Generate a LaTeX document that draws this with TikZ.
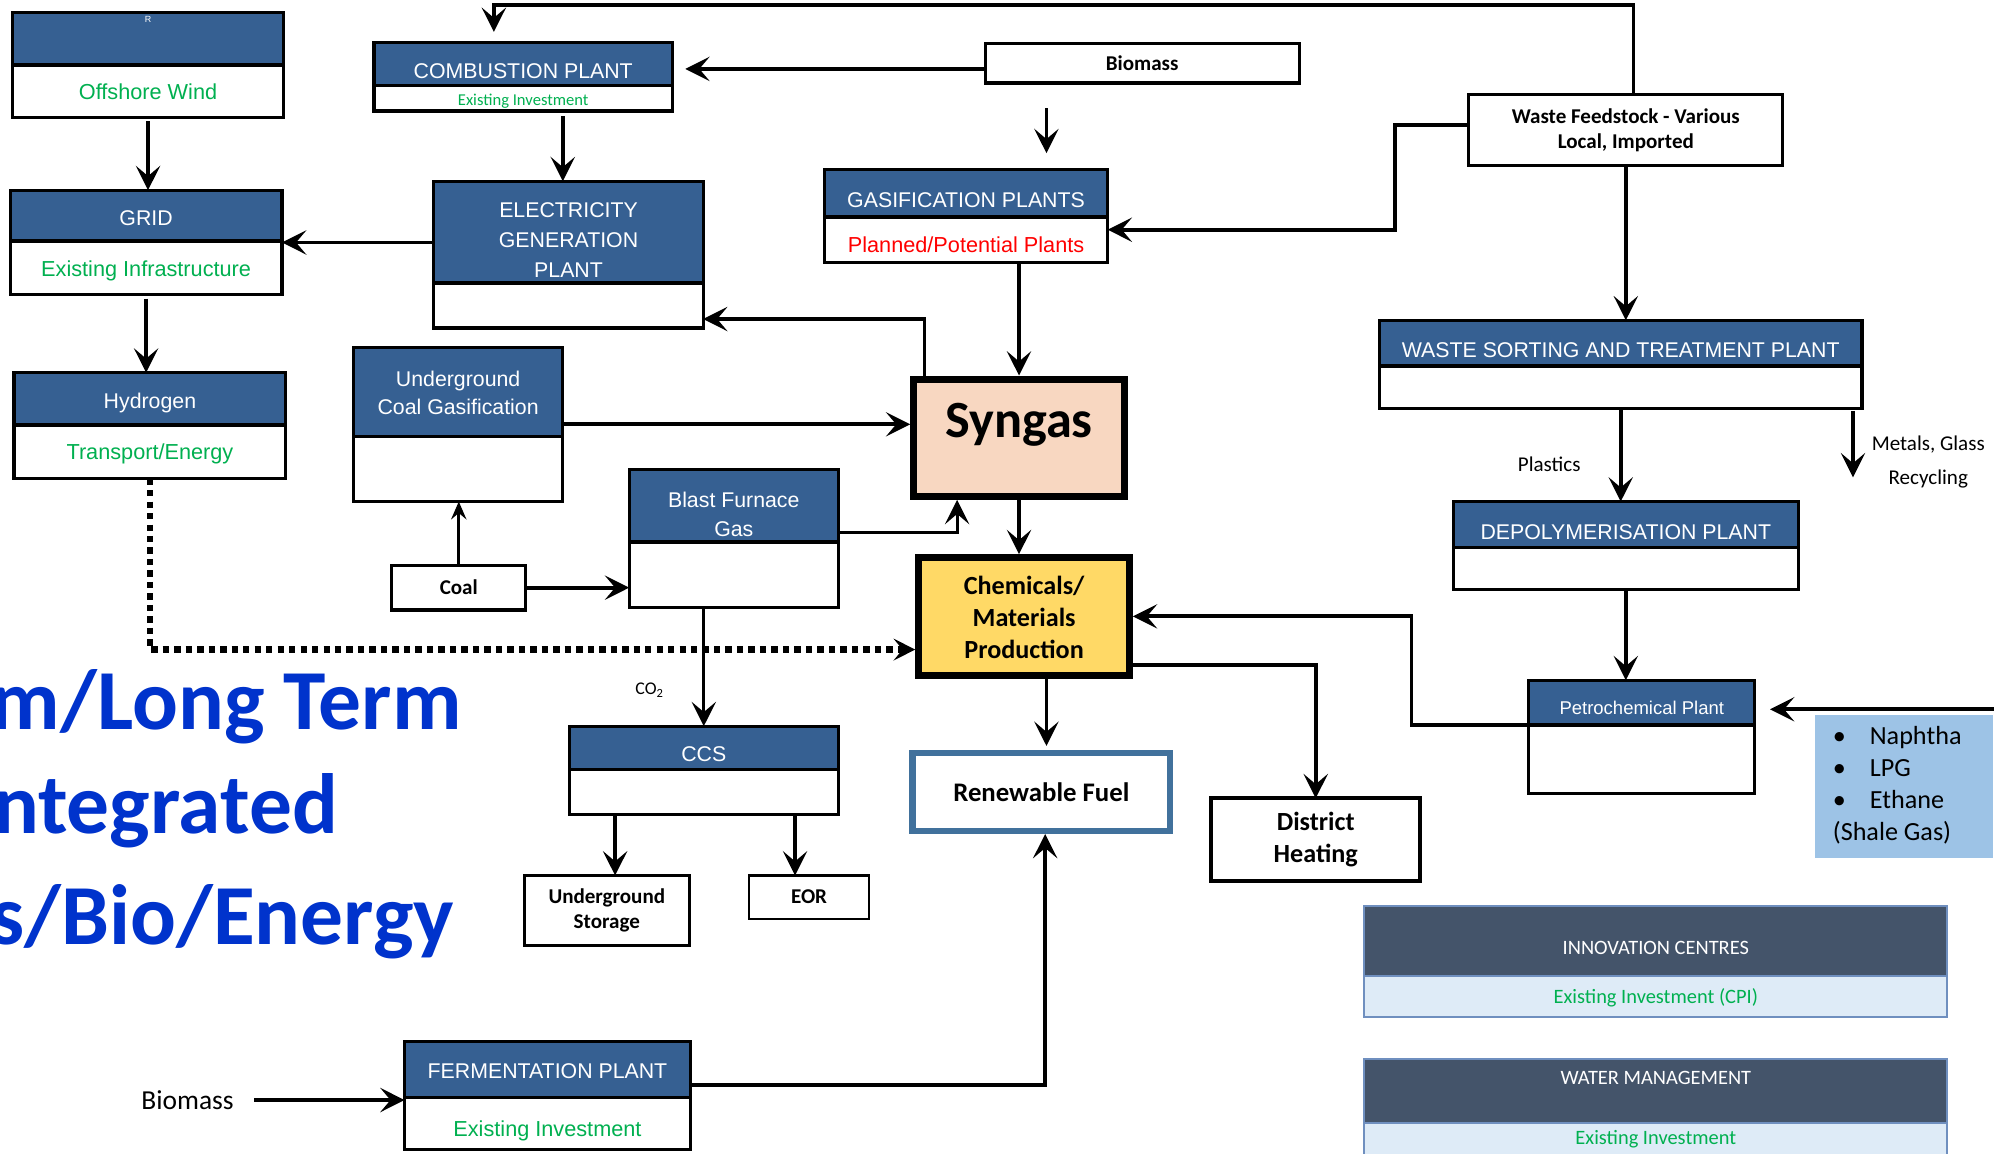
\documentclass[tikz,border=0pt]{standalone}
\usepackage{fontspec}
\setmainfont{Liberation Sans}
\newfontfamily\calfont{Carlito}
\usetikzlibrary{arrows.meta}
\definecolor{hdrblue}{HTML}{366092}
\definecolor{okgreen}{HTML}{00B050}
\definecolor{peach}{HTML}{F8D7C1}
\definecolor{gold}{HTML}{FFD966}
\definecolor{fuelblue}{HTML}{41719C}
\definecolor{feedblue}{HTML}{9DC3E6}
\definecolor{slate}{HTML}{44546A}
\definecolor{pale}{HTML}{DEEBF7}
\definecolor{edgeblue}{HTML}{6F8FBF}
\definecolor{titleblue}{HTML}{0033CC}
\begin{document}
\begin{tikzpicture}[x=1pt,y=-1pt,
  wh/.style 2 args={minimum width=#1pt, minimum height=#2pt},
  box/.style={draw, line width=2.5pt, fill=white, inner sep=0pt, outer sep=0pt},
  plant/.style={box, path picture={
      \fill[hdrblue] (path picture bounding box.north west) rectangle ([yshift=-#1pt]path picture bounding box.north east);
      \draw[line width=3pt] ([yshift=-#1pt]path picture bounding box.north west) -- ([yshift=-#1pt]path picture bounding box.north east);}},
  panel/.style={draw=edgeblue, line width=1.5pt, fill=pale, inner sep=0pt, outer sep=0pt, path picture={
      \fill[slate] (path picture bounding box.north west) rectangle ([yshift=-#1pt]path picture bounding box.north east);
      \draw[edgeblue, line width=1.5pt] ([yshift=-#1pt]path picture bounding box.north west) -- ([yshift=-#1pt]path picture bounding box.north east);}},
  ttl/.style={text=white, font=\fontsize{16.7}{23.5}\selectfont, align=center, inner sep=0pt},
  sub/.style={text=okgreen, font=\fontsize{17}{21}\selectfont, inner sep=0pt},
  lbl/.style={font=\calfont\bfseries\fontsize{16.5}{20}\selectfont, align=center, inner sep=0pt},
  note/.style={font=\calfont\fontsize{16.5}{27}\selectfont, align=center, inner sep=0pt},
  bigtxt/.style={font=\calfont\bfseries\fontsize{67}{80}\selectfont, text=titleblue, inner sep=0pt, anchor=base east},
  arr/.style={line width=3pt, -{Stealth[length=19pt,width=19pt,inset=8pt]}},
  dots/.style={line width=5pt, dash pattern=on 5pt off 4pt, -{Stealth[length=17pt,width=17pt,inset=7pt]}}]
\useasboundingbox (0,0) rectangle (1568,904);
\clip (0,0) rectangle (1568,904);
\fill[white] (0,0) rectangle (1568,904);

% left column
\node[plant=41, wh={212}{82}] (wind) at (116,51) {};
\node[ttl, font=\fontsize{7}{8}\selectfont] (wind-r) at (116,15) {R};
\node[sub] (wind-s) at (116,72) {Offshore Wind};
\node[plant=40, wh={213}{82}] (grid) at (114.5,190) {};
\node[ttl] (grid-t) at (114.5,171) {GRID};
\node[sub] (grid-s) at (114.5,212) {Existing Infrastructure};
\node[plant=41, wh={213}{83}] (hydro) at (117.5,333.5) {};
\node[ttl] (hydro-t) at (117.5,316) {Hydrogen};
\node[sub] (hydro-s) at (117.5,356) {Transport/Energy};

% power and coal
\node[plant=34, wh={234}{54}] (comb) at (410,60) {};
\node[ttl] (comb-t) at (410,56) {COMBUSTION PLANT};
\node[sub, font=\calfont\fontsize{13}{15}\selectfont] (comb-s) at (410,79) {Existing Investment};
\node[plant=80, wh={211}{115}] (elec) at (445.5,199.5) {};
\node[ttl] (elec-t) at (445.5,188) {ELECTRICITY\\GENERATION\\PLANT};
\node[plant=70, wh={164}{121}] (ucg) at (359,332.5) {};
\node[ttl, font=\fontsize{16.7}{22}\selectfont] (ucg-t) at (359,308) {Underground\\Coal Gasification};
\node[box, wh={105}{35}, lbl] (coal) at (359.5,460.5) {Coal};
\node[plant=57, wh={164}{108}] (bfg) at (575,422) {};
\node[ttl, font=\fontsize{16.7}{23}\selectfont] (bfg-t) at (575,403) {Blast Furnace\\Gas};
\node[plant=34, wh={211}{69}] (ccs) at (551.5,603.5) {};
\node[ttl] (ccs-t) at (551.5,591) {CCS};
\node[box, wh={129}{55}, lbl] (store) at (475.5,713.5) {Underground\\Storage};
\node[box, line width=2pt, wh={94}{34}, lbl] (eor) at (634,703) {EOR};
\node[note, font=\calfont\fontsize{14}{16}\selectfont] (co2) at (509,541) {CO\textsubscript{2}};

% centre
\node[box, wh={246}{31}, lbl] (bio) at (895,49.5) {Biomass};
\node[plant=37, wh={222}{73}] (gasif) at (757,169.5) {};
\node[ttl] (gasif-t) at (757,157) {GASIFICATION PLANTS};
\node[sub, text=red] (gasif-s) at (757,192) {Planned/Potential Plants};
\node[draw, line width=5.5pt, fill=peach, wh={165}{92}, inner sep=0pt] (syngas) at (798.5,343) {};
\node[font=\calfont\bfseries\fontsize{41}{45}\selectfont, inner sep=0pt, anchor=base] (syngas-t) at (798.5,343) {Syngas};
\node[draw, line width=5.5pt, fill=gold, wh={165}{92}, inner sep=0pt] (chem) at (802.5,483) {};
\node[lbl, font=\calfont\bfseries\fontsize{20.5}{25}\selectfont] (chem-t) at (802.5,484) {Chemicals/\\Materials\\Production};
\node[draw=fuelblue, line width=5pt, fill=white, wh={202}{61}, inner sep=0pt, font=\calfont\bfseries\fontsize{21}{25}\selectfont] (fuel) at (816,620.5) {Renewable Fuel};
\node[box, line width=3pt, wh={164}{65}, lbl, font=\calfont\bfseries\fontsize{20.5}{25}\selectfont] (heat) at (1031,658) {District\\Heating};
\node[plant=44, wh={224}{85}] (ferm) at (429,858.5) {};
\node[ttl] (ferm-t) at (429,839) {FERMENTATION PLANT};
\node[sub] (ferm-s) at (429,886) {Existing Investment};
\node[note, font=\calfont\fontsize{21.5}{25}\selectfont] (bio2) at (147,862) {Biomass};

% waste side
\node[box, wh={246}{56}, lbl] (waste) at (1274,102) {Waste Feedstock - Various\\Local, Imported};
\node[plant=36, wh={378}{69}] (sort) at (1270,285.5) {};
\node[ttl] (sort-t) at (1270,274) {WASTE SORTING AND TREATMENT PLANT};
\node[note] (plastics) at (1214,364) {Plastics};
\node[note] (metals-t) at (1511,362) {Metals, Glass\\Recycling};
\node[plant=36, wh={270}{69}] (depoly) at (1274,427.5) {};
\node[ttl] (depoly-t) at (1274,417) {DEPOLYMERISATION PLANT};
\node[plant=35, wh={177}{89}] (petro) at (1286.5,577.5) {};
\node[ttl, font=\fontsize{14.5}{17}\selectfont] (petro-t) at (1286.5,555) {Petrochemical Plant};
\node[fill=feedblue, wh={140}{112}, inner sep=0pt] (feed) at (1492,616) {};
\node[font=\calfont\fontsize{20.5}{25}\selectfont, align=left, anchor=north west, inner sep=0pt] (feed-t) at (1436,569)
  {\makebox[29pt][l]{\textbullet}Naphtha\\\makebox[29pt][l]{\textbullet}LPG\\\makebox[29pt][l]{\textbullet}Ethane\\(Shale Gas)};

% panels
\node[panel=55, wh={457}{87}] (innov) at (1297.5,753.5) {};
\node[font=\calfont\fontsize{16}{19}\selectfont, text=white, inner sep=0pt] (innov-t) at (1297.5,743) {INNOVATION CENTRES};
\node[font=\calfont\fontsize{16}{19}\selectfont, text=okgreen, inner sep=0pt] (innov-s) at (1297.5,782) {Existing Investment (CPI)};
\node[panel=50, wh={457}{90}] (water) at (1297.5,875) {};
\node[font=\calfont\fontsize{16}{19}\selectfont, text=white, inner sep=0pt] (water-t) at (1297.5,845) {WATER MANAGEMENT};
\node[font=\calfont\fontsize{16}{19}\selectfont, text=okgreen, inner sep=0pt] (water-s) at (1297.5,893) {Existing Investment};

\node[bigtxt] (title1) at (362,572) {m/Long Term};
\node[bigtxt] (title2) at (265,653) {ntegrated};
\node[bigtxt] (title3) at (356,740) {s/Bio/Energy};

% connectors
\coordinate (elecin) at ([yshift=9.5pt]elec.west);
\coordinate (combout) at ([xshift=31pt]comb.south);
\coordinate (bioout) at ([yshift=-4.5pt]bio.west);
\coordinate (biodown) at ([xshift=-75pt]bio.south);
\coordinate (wasteup) at ([xshift=6pt]waste.north);
\coordinate (combin) at ([xshift=-23pt]comb.north);
\coordinate (wasteleft) at ([yshift=4pt]waste.west);
\coordinate (gasifin) at ([yshift=-10.5pt]gasif.east);
\coordinate (metals) at ([xshift=-7pt,yshift=-54pt]sort.south east);
\coordinate (feedout) at ([yshift=4pt]feed.north east);
\coordinate (petroout) at ([yshift=9.5pt]petro.west);
\coordinate (synup) at ([xshift=11pt]syngas.north west);
\coordinate (elecback) at ([yshift=7pt]elec.south east);
\coordinate (bfgout) at ([yshift=5pt]bfg.east);
\coordinate (synin) at ([xshift=-48.5pt]syngas.south);
\coordinate (chemin) at ([yshift=-26pt]chem.west);
\coordinate (storein) at ([xshift=6.5pt]store.north);
\coordinate (eorin) at ([xshift=-11pt]eor.north);
\coordinate (fuelin) at ([xshift=4pt]fuel.north);
\coordinate (chemout) at ([yshift=-38pt]chem.east);
\coordinate (fermout) at ([yshift=8.5pt]ferm.east);
\coordinate (fuelup) at ([xshift=3pt]fuel.south);

\draw[arr, shorten <=3pt] (wind.south) -- (wind.south |- grid.north);
\draw[arr, shorten <=3pt] (grid.south) -- (grid.south |- hydro.north);
\draw[arr] (elecin) -- (elecin -| grid.east);
\draw[arr, shorten <=4pt] (combout) -- (combout |- elec.north);
\draw[arr, shorten >=10pt] (bioout) -- (bioout -| comb.east);
\draw[arr, line width=2.5pt, shorten <=20pt, shorten >=13pt] (biodown) -- (biodown |- gasif.north);
\draw[arr, shorten >=8pt] (wasteup) -- ++(0,-70) -| (combin);
\draw[arr] (wasteleft) -- ++(-58,0) |- (gasifin);
\draw[arr] (waste.south) -- (waste.south |- sort.north);
\draw[arr] (sort.south) -- (sort.south |- depoly.north);
\draw[arr, shorten <=2pt] (metals |- sort.south) -- (metals);
\draw[arr] (depoly.south) -- (depoly.south |- petro.north);
\draw[arr, shorten >=12pt] (feedout) -- (feedout -| petro.east);
\draw[arr] (petroout) -- ++(-92,0) |- (chem.east);
\draw[arr, line width=2.5pt] (syngas.north |- gasif.south) -- (syngas.north);
\draw[arr, line width=2.5pt] (synup) |- (elecback);
\draw[arr] (ucg.east) -- (ucg.east -| syngas.west);
\draw[line width=2.2pt, -{Stealth[length=14pt,width=12pt,inset=5pt]}] (coal.north) -- (coal.north |- ucg.south);
\draw[arr] (coal.east) -- (coal.east -| bfg.west);
\draw[arr, line width=2.5pt] (bfgout) -| (synin);
\draw[arr, line width=2.5pt] (syngas.south) -- (syngas.south |- chem.north);
\draw[dots] (hydro.south) |- (chemin);
\draw[arr, line width=2.5pt] (ccs.north |- bfg.south) -- (ccs.north);
\draw[arr] (storein |- ccs.south) -- (storein);
\draw[arr] (eorin |- ccs.south) -- (eorin);
\draw[arr, shorten >=3pt] (fuelin |- chem.south) -- (fuelin);
\draw[arr] (chemout) -| (heat.north);
\draw[arr] (fermout) -| (fuelup);
\draw[arr, shorten <=16pt] (bio2.east) -- (bio2.east -| ferm.west);
\end{tikzpicture}
\end{document}
